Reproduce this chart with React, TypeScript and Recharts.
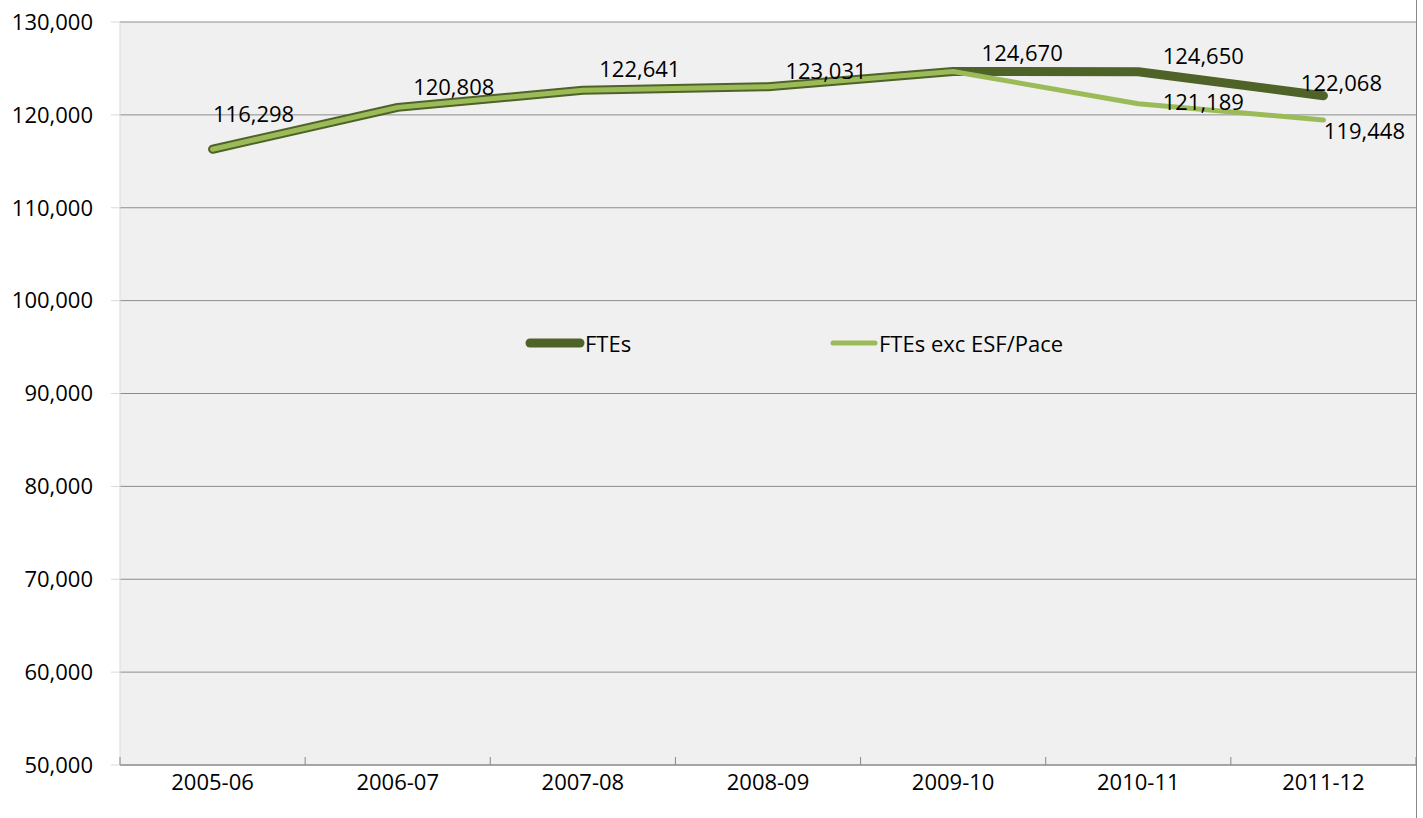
import React from "react";
import {
    LineChart,
    Line,
    XAxis,
    YAxis,
    CartesianGrid,
    Legend,
    LabelList,
} from "recharts";

const years = ["2005-06", "2006-07", "2007-08", "2008-09", "2009-10", "2010-11", "2011-12"];
const ftes = [116298, 120808, 122641, 123031, 124670, 124650, 122068];
const ftesExcEsfPace = [116298, 120808, 122641, 123031, 124670, 121189, 119448];
const yTicks = [50000, 60000, 70000, 80000, 90000, 100000, 110000, 120000, 130000];

// label nudges (px) so the numbers sit where the original put them; null = no label
const ftesLabelShift: ([number, number] | null)[] = [
    [41, -36], [56, -21], [57, -22], [58, -17], [69, -20], [65, -17], [18, -14],
];
const excLabelShift: ([number, number] | null)[] = [
    null, null, null, null, null, [65, -3], [41, 10],
];

const W = 1423;
const H = 818;
const LEFT = 120;
const RIGHT = 7;
const FONT = "'Open Sans', sans-serif";
const FS = 22;
const DARK = "#4f6228";
const LIGHT = "#9bbb59";

const data = years.map((year, i) => ({
    year,
    ftes: ftes[i],
    exc: ftesExcEsfPace[i],
}));

const fmt = (v: number) => v.toLocaleString("en-US");

const makeLabel = (shifts: ([number, number] | null)[]) => (props: any) => {
    const { x, y, value, index } = props;
    const s = shifts[index];
    if (!s) return null;
    return (
        <text
            x={x + s[0]}
            y={y + s[1]}
            textAnchor="middle"
            dominantBaseline="central"
            fontSize={FS}
            fontFamily={FONT}
            fill="#000"
        >
            {fmt(value)}
        </text>
    );
};

const band = (W - LEFT - RIGHT) / years.length;

const XTick = (props: any) => {
    const { x, y, payload, index } = props;
    return (
        <g>
            <line x1={x - band / 2} x2={x - band / 2} y1={y - 16} y2={y - 8} stroke="#888" />
            {index === years.length - 1 && (
                <line x1={x + band / 2} x2={x + band / 2} y1={y - 16} y2={y - 8} stroke="#888" />
            )}
            <text x={x} y={y + 8} textAnchor="middle" dominantBaseline="central" fontSize={FS} fontFamily={FONT} fill="#000">
                {payload.value}
            </text>
        </g>
    );
};

const renderLegend = () => (
    <div style={{ position: "relative", height: 30, fontFamily: FONT, fontSize: FS, color: "#000" }}>
        <div style={{ position: "absolute", left: 0, top: 0, display: "flex", alignItems: "center" }}>
            <svg width={60} height={30}>
                <line x1={5} x2={55} y1={15} y2={15} stroke={DARK} strokeWidth={9} strokeLinecap="round" />
            </svg>
            <span>FTEs</span>
        </div>
        <div style={{ position: "absolute", left: 304, top: 0, display: "flex", alignItems: "center" }}>
            <svg width={50} height={30}>
                <line x1={4} x2={46} y1={15} y2={15} stroke={LIGHT} strokeWidth={5} strokeLinecap="round" />
            </svg>
            <span>FTEs exc ESF/Pace</span>
        </div>
    </div>
);

export default function App() {
    return (
        <div style={{ position: "absolute", left: 0, top: 0, width: W, height: H, background: "#fff" }}>
            <div style={{ position: "absolute", left: 1416, top: 0, width: 1, height: H, background: "#888" }} />
            <LineChart width={W} height={H} data={data} margin={{ top: 22, right: RIGHT, bottom: 0, left: 0 }}>
                <CartesianGrid vertical={false} stroke="#8c8c8c" fill="#f0f0f0" />
                <XAxis
                    dataKey="year"
                    height={53}
                    stroke="#888"
                    tickLine={false}
                    tick={<XTick />}
                    interval={0}
                    padding={{ left: band / 2, right: band / 2 }}
                />
                <YAxis
                    width={LEFT}
                    domain={[50000, 130000]}
                    ticks={yTicks}
                    tickFormatter={fmt}
                    stroke="#d9d9d9"
                    tickSize={9}
                    tickMargin={18}
                    tick={{ fontSize: FS, fontFamily: FONT, fill: "#000" }}
                />
                <Legend
                    content={renderLegend}
                    verticalAlign="middle"
                    align="center"
                    wrapperStyle={{ position: "absolute", left: 525, top: 328, width: 600 }}
                />
                <Line
                    dataKey="ftes"
                    name="FTEs"
                    stroke={DARK}
                    strokeWidth={9}
                    strokeLinecap="round"
                    strokeLinejoin="round"
                    dot={false}
                    isAnimationActive={false}
                >
                    <LabelList dataKey="ftes" content={makeLabel(ftesLabelShift)} />
                </Line>
                <Line
                    dataKey="exc"
                    name="FTEs exc ESF/Pace"
                    stroke={LIGHT}
                    strokeWidth={5}
                    strokeLinecap="round"
                    strokeLinejoin="round"
                    dot={false}
                    isAnimationActive={false}
                >
                    <LabelList dataKey="exc" content={makeLabel(excLabelShift)} />
                </Line>
            </LineChart>
        </div>
    );
}
